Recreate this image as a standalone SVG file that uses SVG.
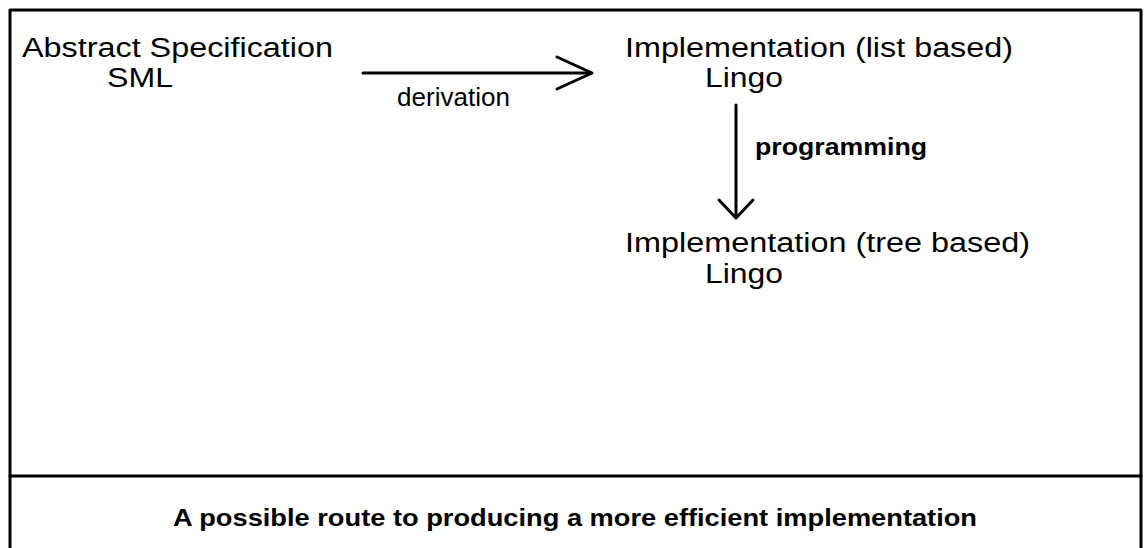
<svg xmlns="http://www.w3.org/2000/svg" width="1145" height="548" viewBox="0 0 1145 548">
<style>
.t{font-family:"Liberation Sans",Arial,sans-serif;font-size:27px;fill:#000}
.l{font-family:"Liberation Sans",Arial,sans-serif;font-size:25px;fill:#000}
.b{font-family:"Liberation Sans",Arial,sans-serif;font-size:24px;font-weight:bold;fill:#000}
.c{stroke:#000;stroke-width:3;fill:none;stroke-linecap:round;stroke-linejoin:round}
</style>
<rect width="1145" height="548" fill="#fff"/>
<g id="frame">
<path class="c" d="M10,548 V10 H1141 V548"/>
<line class="c" x1="10" y1="476" x2="1141" y2="476"/>
</g>
<g id="abstract">
<text class="t" x="22" y="57" textLength="311" lengthAdjust="spacingAndGlyphs">Abstract Specification</text>
<text class="t" x="107" y="87" textLength="66" lengthAdjust="spacingAndGlyphs">SML</text>
</g>
<g id="impl-list">
<text class="t" x="625" y="57" textLength="388" lengthAdjust="spacingAndGlyphs">Implementation (list based)</text>
<text class="t" x="705" y="87" textLength="78" lengthAdjust="spacingAndGlyphs">Lingo</text>
</g>
<g id="impl-tree">
<text class="t" x="625" y="252" textLength="405" lengthAdjust="spacingAndGlyphs">Implementation (tree based)</text>
<text class="t" x="705" y="283" textLength="78" lengthAdjust="spacingAndGlyphs">Lingo</text>
</g>
<g id="connectors">
<line class="c" x1="363" y1="73" x2="591" y2="73"/>
<path class="c" d="M557,57 L592,73 L557,89"/>
<text class="l" x="397" y="106" textLength="113" lengthAdjust="spacingAndGlyphs">derivation</text>
<line class="c" x1="736" y1="105" x2="736" y2="217"/>
<path class="c" d="M719,200 L736,218 L753,200"/>
<text class="b" x="755" y="155" textLength="172" lengthAdjust="spacingAndGlyphs">programming</text>
</g>
<g id="caption">
<text class="b" x="173" y="526" textLength="804" lengthAdjust="spacingAndGlyphs">A possible route to producing a more efficient implementation</text>
</g>
</svg>
